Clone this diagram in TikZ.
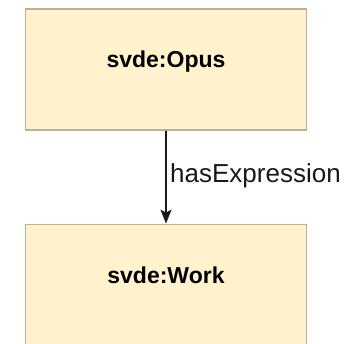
\documentclass[tikz,border=0pt]{standalone}
\usepackage{fontspec}
\setmainfont{Liberation Sans}
\usetikzlibrary{positioning, arrows.meta}
\definecolor{classfill}{RGB}{255,242,204}
\definecolor{classline}{RGB}{185,178,145}

\begin{document}
\begin{tikzpicture}[x=1pt, y=1pt, node distance=93pt, >={Stealth[length=14pt,width=11pt,inset=3pt]}]
        \tikzset{class/.style={draw=classline, fill=classfill, line width=1.2pt, minimum width=281pt, inner xsep=0pt, inner ysep=0pt, text height=59pt, text depth=62pt, font=\fontsize{23}{27}\selectfont\bfseries}}
        % Fix the page to the size of the reference
        \useasboundingbox (0,0) rectangle (352,-344);

        \node[class] (opus) at (166,-69.5) {svde:Opus};
        \node[class] (work) [below=of opus] {svde:Work};
        \path[->]
        (opus) edge [line width=1.4pt, black!90] node[anchor=base west, pos=0.556, xshift=3.5pt, inner sep=0pt, font=\fontsize{26}{30}\selectfont] {hasExpression} (work);
\end{tikzpicture}
\end{document}
